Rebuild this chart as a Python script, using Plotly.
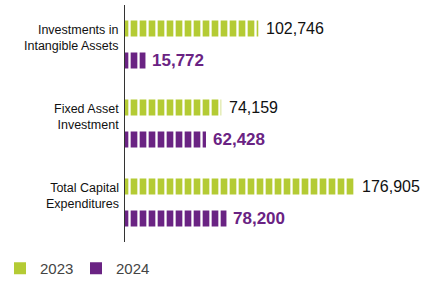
import plotly.graph_objects as go

categories = ["Investments in<br>Intangible Assets", "Fixed Asset<br>Investment", "Total Capital<br>Expenditures"]
values_2023 = [102746, 74159, 176905]
values_2024 = [15772, 62428, 78200]
series_names = ["2023", "2024"]

GREEN = "#B4CB34"
PURPLE = "#6A2383"

fig = go.Figure()
for name, vals, col in [(series_names[0], values_2023, GREEN), (series_names[1], values_2024, PURPLE)]:
    fig.add_trace(go.Bar(
        x=vals, y=categories, orientation="h", name=name, showlegend=False,
        marker=dict(color=col, line=dict(width=0),
                    pattern=dict(shape="|", bgcolor=col, fgcolor="white", fgopacity=1,
                                 size=9, solidity=0.26)),
        hoverinfo="skip",
    ))
    # legend-only solid square
    fig.add_trace(go.Scatter(
        x=[None], y=[None], mode="markers", name=name,
        marker=dict(symbol="square", size=12, color=col),
    ))

annotations = []
for cat in categories:
    annotations.append(dict(
        x=0, xref="paper", y=cat, yref="y", text=cat, showarrow=False,
        xanchor="right", yanchor="middle", xshift=-4, yshift=7, align="right",
        font=dict(family="Liberation Sans, Arial", size=12.5, color="#111111"),
    ))
for cat, v in zip(categories, values_2023):
    annotations.append(dict(
        x=v, y=cat, text=f"{v:,}", showarrow=False, xanchor="left", yanchor="middle",
        xshift=6, yshift=16,
        font=dict(family="Liberation Sans, Arial", size=16, color="#111111"),
    ))
for cat, v in zip(categories, values_2024):
    annotations.append(dict(
        x=v, y=cat, text=f"<b>{v:,}</b>", showarrow=False, xanchor="left", yanchor="middle",
        xshift=5, yshift=-16,
        font=dict(family="Liberation Sans, Arial", size=17, color=PURPLE),
    ))

fig.update_layout(
    width=434, height=285,
    margin=dict(l=125, r=10, t=5, b=43),
    paper_bgcolor="white", plot_bgcolor="white",
    barmode="group", bargap=0.19, bargroupgap=0.5,
    xaxis=dict(range=[0, 230500], visible=False, fixedrange=True),
    yaxis=dict(type="category", range=[2.5, -0.5], showticklabels=False, ticks="",
               showgrid=False, zeroline=False, showline=True, linecolor="#333333", linewidth=1),
    annotations=annotations,
    legend=dict(orientation="h", x=0, xref="container", y=0, yref="container",
                xanchor="left", yanchor="bottom", itemwidth=30,
                entrywidth=31, entrywidthmode="pixels",
                font=dict(family="Liberation Sans, Arial", size=15, color="#444444"),
                tracegroupgap=0),
    showlegend=True,
)

fig.write_html("out.html")
